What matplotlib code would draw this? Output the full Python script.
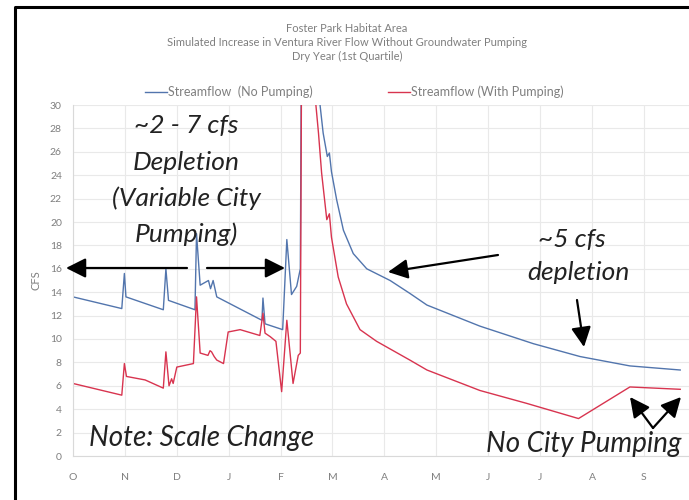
"""Foster Park streamflow, dry year: with vs without groundwater pumping."""

import matplotlib

matplotlib.use("Agg")

import matplotlib.pyplot as plt
from matplotlib.lines import Line2D

# x is in months from the start of the water year (0 = Oct 1)
months = ["O", "N", "D", "J", "F", "M", "A", "M", "J", "J", "A", "S"]

no_pump_x = [0.00, 0.94, 0.99, 1.02, 1.74, 1.79, 1.84, 2.35, 2.38, 2.45, 2.61, 2.65,
             2.70, 2.77, 3.64, 3.66, 3.70, 4.04, 4.12, 4.21, 4.31, 4.38, 4.45, 4.76,
             4.82, 4.90, 4.94, 4.98, 5.08, 5.21, 5.40, 5.66, 6.11, 6.49, 6.82, 7.84,
             8.87, 9.77, 10.73, 11.70]
no_pump_cfs = [13.6, 12.6, 15.6, 13.6, 12.5, 16.0, 13.3, 12.5, 19.0, 14.6, 15.0, 14.3,
               15.0, 13.6, 11.6, 13.5, 11.3, 10.8, 18.5, 13.8, 14.5, 16.0, 80.0, 30.0,
               27.6, 25.6, 25.9, 24.3, 21.9, 19.3, 17.3, 16.0, 15.0, 13.9, 12.9, 11.1,
               9.6, 8.5, 7.7, 7.35]

pump_x = [0.00, 0.94, 0.99, 1.03, 1.39, 1.74, 1.79, 1.85, 1.90, 1.93, 2.00, 2.32,
          2.38, 2.45, 2.60, 2.64, 2.67, 2.72, 2.77, 2.90, 2.99, 3.22, 3.60, 3.66,
          3.70, 3.80, 3.91, 4.02, 4.12, 4.24, 4.34, 4.38, 4.41, 4.45, 4.68, 4.73,
          4.79, 4.89, 4.94, 4.98, 5.11, 5.27, 5.53, 5.85, 6.49, 6.82, 7.84, 8.74,
          9.74, 10.73, 11.70]
pump_cfs = [6.2, 5.2, 7.9, 6.8, 6.5, 5.8, 8.9, 6.0, 6.6, 6.2, 7.6, 7.9,
            13.6, 8.8, 8.6, 9.0, 8.9, 8.5, 8.2, 7.9, 10.6, 10.8, 10.3, 12.2,
            10.5, 10.2, 9.8, 5.5, 11.6, 6.2, 8.6, 8.8, 40.0, 80.0, 30.0, 27.6,
            24.2, 20.2, 20.7, 18.7, 15.3, 13.0, 10.8, 9.8, 8.2, 7.35, 5.6, 4.5,
            3.2, 5.9, 5.7]

title_lines = ["Foster Park Habitat Area",
               "Simulated Increase in Ventura River Flow Without Groundwater Pumping",
               "Dry Year (1st Quartile)"]

W, H = 689, 500
GRAY = "#7f7f7f"
BLUE = "#5275ad"
RED = "#d8344f"
plt.rcParams["font.family"] = ["Lato", "DejaVu Sans"]

fig = plt.figure(figsize=(W / 100, H / 100), dpi=100)
# plot area: x=0 at px 73, 51.9 px per month; y=0 at px 456, y=30 at px 105
ax = fig.add_axes([73 / W, (H - 456) / H, 12 * 51.9 / W, (456 - 105) / H])

ax.plot(no_pump_x, no_pump_cfs, color=BLUE, lw=1.0, label="Streamflow  (No Pumping)")
ax.plot(pump_x, pump_cfs, color=RED, lw=1.0, label="Streamflow (With Pumping)")

ax.set_xlim(0, 12)
ax.set_ylim(0, 30)
ax.set_yticks(range(0, 31, 2))
ax.set_xticks(range(12))
ax.set_xticklabels(months)
ax.tick_params(length=0, labelsize=7.5, labelcolor=GRAY, pad=8)
ax.tick_params(axis="x", pad=12)
ax.grid(True, color="#e9e9e9", lw=0.8)
ax.set_axisbelow(True)
for side in ["top", "right"]:
    ax.spines[side].set_visible(False)
for side in ["left", "bottom"]:
    ax.spines[side].set_color("#d9d9d9")
ax.set_ylabel("CFS", fontsize=8, color=GRAY, labelpad=6)

leg = ax.legend(loc="center left", bbox_to_anchor=(145 / W, (H - 92) / H),
                bbox_transform=fig.transFigure, ncol=2, frameon=False,
                fontsize=9, handlelength=1.75, handletextpad=0.1,
                columnspacing=6.0, borderaxespad=0, borderpad=0)
for t in leg.get_texts():
    t.set_color(GRAY)

for i, line in enumerate(title_lines):
    fig.text(347 / W, (H - 29 - 13.5 * i) / H, line, ha="center", va="center",
             fontsize=8, color=GRAY)

# black frame (left and top edges) around the slide image
fig.lines.append(Line2D([15 / W, 15 / W, 1.05], [-0.05, (H - 7) / H, (H - 7) / H],
                        color="black", lw=2.2, transform=fig.transFigure))

# annotations
note = dict(fontsize=19, style="italic", color="#222222", ha="center", va="center")
for i, line in enumerate(["~2 - 7 cfs", "Depletion", "(Variable City", "Pumping)"]):
    fig.text(186 / W, (H - 126 - 36 * i) / H, line, **note)
fig.text(572 / W, (H - 240) / H, "~5 cfs", **note)
fig.text(578 / W, (H - 272) / H, "depletion", **note)
note["fontsize"] = 20
fig.text(202 / W, (H - 438) / H, "Note: Scale Change", **note)
fig.text(584 / W, (H - 444) / H, "No City Pumping", **note)

arrow = dict(arrowstyle="-|>,head_length=0.6,head_width=0.3", color="black",
             lw=1.6, mutation_scale=20, shrinkA=0, shrinkB=0)
arrows = [((187, 268), (66, 268)), ((207, 268), (285, 268)),
          ((498, 255), (388, 272)), ((577, 300), (584, 347)),
          ((653, 428), (630, 397)), ((653, 428), (681, 397))]
for (x0, y0), (x1, y1) in arrows:
    ax.annotate("", xy=(x1, H - y1), xytext=(x0, H - y0),
                xycoords="figure pixels", textcoords="figure pixels",
                arrowprops=arrow, annotation_clip=False)

fig.savefig("out.png", dpi=100)
